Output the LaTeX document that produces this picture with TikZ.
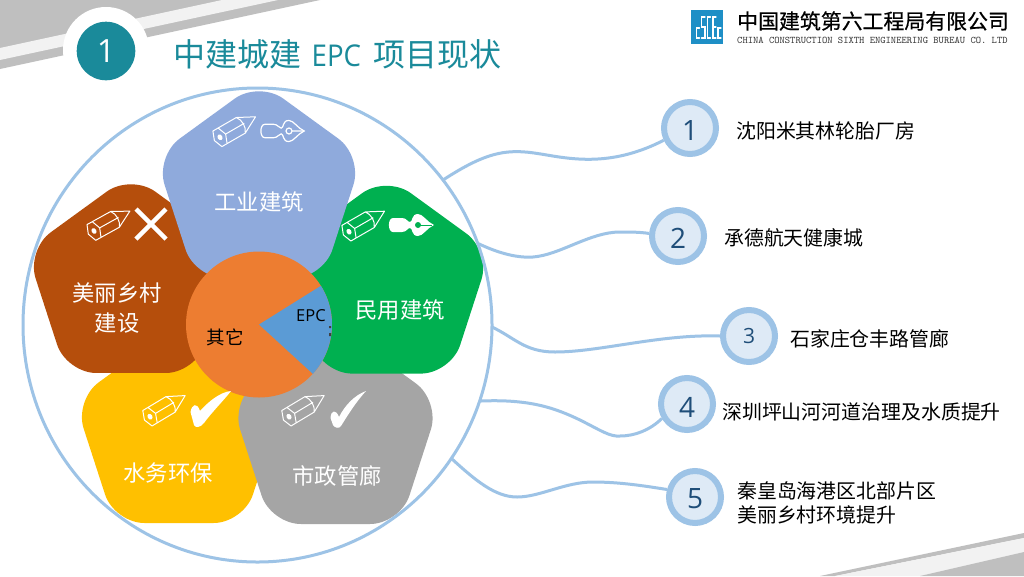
\documentclass[tikz,border=0pt]{standalone}
\usepackage{fontspec}
\setmainfont{Open Sans}
\newfontfamily\cjk{Noto Sans CJK SC}
\newfontfamily\cjkb[FakeBold=0.5]{Noto Sans CJK SC}
\definecolor{ring}{HTML}{9DC3E6}
\definecolor{ringfill}{HTML}{DEEAF6}
\definecolor{numc}{HTML}{1F4E79}
\definecolor{teal1}{HTML}{1A8A9A}
\definecolor{bandd}{HTML}{BFBFBF}
\definecolor{bandl}{HTML}{F2F2F2}
\definecolor{pblue}{HTML}{8FAADC}
\definecolor{pgreen}{HTML}{00B050}
\definecolor{pbrown}{HTML}{B54E0C}
\definecolor{pyellow}{HTML}{FFC000}
\definecolor{pgrey}{HTML}{A5A5A5}
\definecolor{porange}{HTML}{ED7D31}
\definecolor{pieblue}{HTML}{5B9BD5}
\definecolor{logoblue}{HTML}{1E8FC6}
\newcommand{\pentag}[4]{% colour, cx, cy, R
  \fill[#1,rounded corners=30pt]
    ($(#2,#3)+(0,-#4)$) --
    ($(#2,#3)+({0.951*#4},{-0.309*#4})$) --
    ($(#2,#3)+({0.588*#4},{0.809*#4})$) --
    ($(#2,#3)+({-0.588*#4},{0.809*#4})$) --
    ($(#2,#3)+({-0.951*#4},{-0.309*#4})$) -- cycle;}
\usetikzlibrary{calc}
\tikzset{
  numcirc/.style={circle,draw=ring,line width=6pt,fill=ringfill,minimum size=52pt,inner sep=0pt,text=numc,font=\fontsize{28}{28}\selectfont},
  link/.style={draw=ring,line width=3pt},
  lab/.style={font=\cjk\fontsize{19.9}{24}\selectfont,text=black,anchor=west,inner sep=0pt,align=left},
  ptxt/.style={font=\cjk\fontsize{22.3}{30}\selectfont,text=white,inner sep=0pt,align=center},
  pencil/.pic={
    \draw[white,line width=1pt,line join=round]
      (-3,-9) -- (3,-9) -- (6.5,0) -- (3,9) -- (-3,9) -- (-6.5,0) -- cycle
      (3,-9) -- (24,-9) -- (41,0) -- (24,9) -- (3,9)
      (6.5,0) -- (28,0)
      (24,-9) .. controls (28,-4) and (28,4) .. (24,9);
    \fill[white] (0,0) ellipse (2.4pt and 3pt);
  },
  nibpath/.pic={
    \path[pic actions]
      (4,-7) -- (13,-7) .. controls (18,-7) and (18,-3) .. (21,-3)
      .. controls (24,-3) and (22,-11) .. (29,-11)
      .. controls (34,-11) and (38,-3) .. (45,0)
      .. controls (38,3) and (34,11) .. (29,11)
      .. controls (22,11) and (24,3) .. (21,3)
      .. controls (18,3) and (18,7) .. (13,7) -- (4,7)
      .. controls (-1.5,7) and (-1.5,-7) .. (4,-7) -- cycle;
  },
}
\begin{document}
\begin{tikzpicture}[x=1pt,y=-1pt]
\useasboundingbox (0,0) rectangle (1024,576);
\fill[white] (0,0) rectangle (1024,576);
% corner bands
\fill[bandd] (0,0) -- (320,0) -- (0,69) -- cycle;
\fill[bandl] (0,48) -- (222,0) -- (278,0) -- (0,60) -- cycle;
\fill[bandd] (1024,533) -- (1024,538) -- (835,576) -- (820,576) -- cycle;
\fill[bandl] (1024,538) -- (1024,552) -- (920,576) -- (835,576) -- cycle;
\fill[bandd] (1024,552) -- (1024,576) -- (920,576) -- cycle;
% title badge
\fill[white] (106,50) circle (43pt);
\node[circle,fill=teal1,minimum size=58.6pt,inner sep=0pt,text=white,font=\fontsize{32}{32}\selectfont] (badge) at (106,51) {1};
\node[anchor=west,inner sep=0pt,text=teal1,font=\cjk\fontsize{32}{32}\selectfont] (title) at (173.5,54) {中建城建\kern10pt{\rmfamily\fontsize{30}{32}\selectfont\scalebox{0.92}[1]{EPC}}\kern12pt项目现状};
% logo
\fill[logoblue] (691,10) rectangle (723,44);
\draw[white,line width=1.1pt,line cap=round]
  (699.5,28) -- (696.5,28) -- (696.5,38) -- (699.5,38)
  (705,17) -- (701.5,17) -- (701.5,27) -- (705,27) -- (705,38) -- (701.5,38)
  (710.5,17) -- (707.5,17) -- (707.5,38) -- (710.5,38)
  (716,17) -- (713,17) -- (713,38) -- (716,38) (713,27) -- (716,27)
  (721,28) -- (718,28) -- (718,38) -- (721,38);
\node[anchor=west,inner sep=0pt,font=\cjkb\fontsize{20.9}{22}\selectfont] (co) at (737,21) {中国建筑第六工程局有限公司};
\node[anchor=west,inner sep=0pt,text=black!80,font=\ttfamily\fontsize{10.1}{11}\selectfont] (coen) at (737,40) {CHINA CONSTRUCTION SIXTH ENGINEERING BUREAU CO. LTD};
% connector free ends on the ring
\coordinate (s1) at (443,180);
\coordinate (s2) at (477,243);
\coordinate (s3) at (492,327);
\coordinate (s4) at (481,401);
\coordinate (s5) at (452,459);
% numbered circles
\node[numcirc] (n1) at (690,128) {\raisebox{-12pt}[0pt][0pt]{1}};
\node[numcirc] (n2) at (678,236) {\raisebox{-12pt}[0pt][0pt]{2}};
\node[numcirc,font=\fontsize{21}{21}\selectfont] (n3) at (749,336) {3};
\node[numcirc] (n4) at (687,404) {\raisebox{-13pt}[0pt][0pt]{4}};
\node[numcirc] (n5) at (695,497) {\raisebox{-11pt}[0pt][0pt]{5}};
% connectors
\draw[link] (s1) .. controls (480,156) and (500,150) .. (525,152) .. controls (555,154) and (600,173) .. (n1.205);
\draw[link] (s2) .. controls (500,254) and (518,258) .. (533,257) .. controls (560,255) and (590,232) .. (620,232) .. controls (630,232) and (640,232) .. (n2.175);
\draw[link] (s3) .. controls (515,338) and (525,352) .. (555,352) .. controls (600,352) and (660,334) .. (n3.west);
\draw[link] (s4) .. controls (530,399) and (555,408) .. (580,420) .. controls (600,430) and (610,437) .. (620,436) .. controls (635,436) and (650,430) .. (n4.210);
\draw[link] (s5) .. controls (475,480) and (495,497) .. (517,497) .. controls (540,497) and (565,482) .. (593,482) .. controls (620,482) and (645,486) .. (n5.165);
% labels
\node[lab] (l1) at (736,131) {沈阳米其林轮胎厂房};
\node[lab] (l2) at (724,238) {承德航天健康城};
\node[lab] (l3) at (790,339) {石家庄仓丰路管廊};
\node[lab] (l4) at (722,412) {深圳坪山河河道治理及水质提升};
\node[lab] (l5) at (737,503) {秦皇岛海港区北部片区\\美丽乡村环境提升};
% ring and pentagons
\fill[white] (257.5,325) ellipse (234.5pt and 237pt);
\begin{scope}
\clip (257.5,325) ellipse (234.5pt and 237pt);
\pentag{pyellow}{179}{434}{110}
\pentag{pgrey}{335.5}{435}{110}
\pentag{pgreen}{386.5}{285}{109.5}
\pentag{pbrown}{131}{284}{110}
\pentag{pblue}{259}{190}{109}
\end{scope}
\draw[ring,line width=3pt] (257.5,325) ellipse (234.5pt and 237pt);
% pie
\fill[porange] (259,324.5) circle (73pt);
\fill[pieblue] (259,324.5) -- ++(32:73pt) arc[start angle=32,end angle=-42.5,radius=73pt] -- cycle;
\node[inner sep=0pt,font=\fontsize{16.5}{18}\selectfont] (epc) at (311,316) {EPC};
\fill[black!75] (329,326) rectangle (331,328) (329,333) rectangle (331,336);
\node[inner sep=0pt,font=\cjk\fontsize{18.5}{20}\selectfont] (other) at (225,337) {其它};
% pentagon labels
\node[ptxt] (t1) at (259,202) {工业建筑};
\node[ptxt] (t2) at (400,310) {民用建筑};
\node[ptxt] (t3) at (117,308) {美丽乡村\\建设};
\node[ptxt] (t4) at (168,473) {水务环保};
\node[ptxt] (t5) at (337,476) {市政管廊};
% icons
\pic[rotate=30] at (220,137.3) {pencil};
\pic[rotate=29] at (94,231) {pencil};
\pic[rotate=30] at (349,231.7) {pencil};
\pic[rotate=31] at (150,416.7) {pencil};
\pic[rotate=31] at (289,416.7) {pencil};
% blue outlined nib
\pic[draw=white,line width=1.2pt,scale=0.96] at (261,131) {nibpath};
\draw[white,line width=1.2pt] (289,131) circle (3pt) (292,131) -- (304,131);
% green filled nib
\pic[fill=white] at (389,225) {nibpath};
\fill[pgreen] (418,225) circle (3pt);
\draw[pgreen,line width=1pt] (418,225) -- (432,225);
% X
\draw[white,line width=4.5pt] (136,209) -- (166,239) (166,209) -- (136,239);
% checks
\fill[white] (190.5,412) .. controls (192,404) and (197,402) .. (200,411)
  .. controls (208,402) and (220,392) .. (231,391)
  .. controls (225,399) and (212,412) .. (204,423)
  .. controls (200,428) and (195,428) .. (194,425) -- cycle;
\fill[white] (330.5,418) .. controls (331,410) and (336,409) .. (339,417)
  .. controls (345,405) and (355,395) .. (366,391)
  .. controls (355,403) and (346,418) .. (341,426)
  .. controls (339,429) and (335,428) .. (333,425) -- cycle;
\end{tikzpicture}
\end{document}
